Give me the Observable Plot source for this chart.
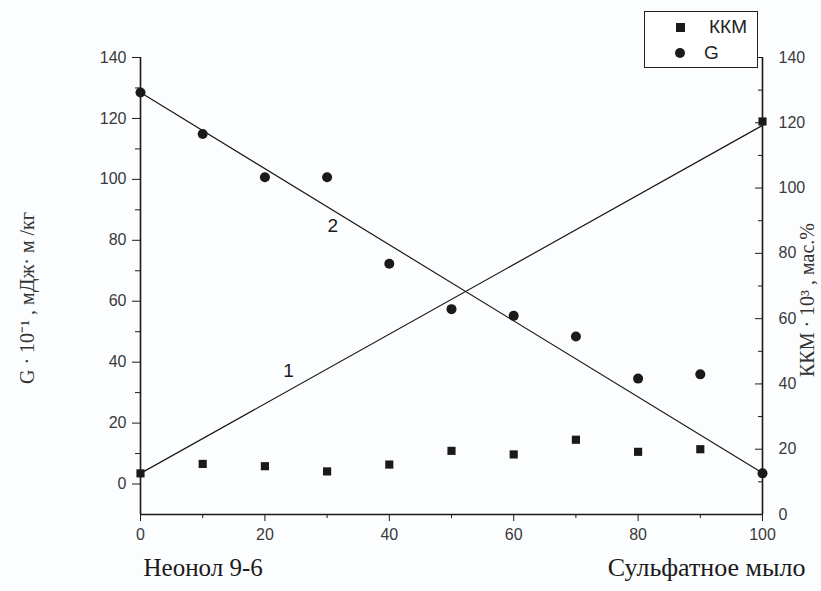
<!DOCTYPE html>
<html><head><meta charset="utf-8">
<script src="https://cdn.jsdelivr.net/npm/d3@7"></script>
<script src="https://cdn.jsdelivr.net/npm/@observablehq/plot@0.6"></script>
<style>
body{margin:0;background:#fff;}
#wrap{position:relative;width:821px;height:591px;background:#fcfdfe;overflow:hidden;}
#wrap > svg{position:absolute;left:0;top:0;}
#legend{position:absolute;left:644px;top:11px;width:112px;height:55px;border:1.5px solid #222;background:#fff;font-family:"Liberation Sans",Arial,sans-serif;font-size:19px;color:#222;}
</style></head><body><div id="wrap"></div>
<script>
// ---- data ----
const composition = [0, 10, 20, 30, 40, 50, 60, 70, 80, 90, 100];
const gValues   = [128.5, 114.9, 100.7, 100.7, 72.3, 57.4, 55.2, 48.4, 34.6, 36.0, 3.5];   // left axis
const kkmValues = [12.6, 15.5, 14.8, 13.2, 15.3, 19.5, 18.4, 22.9, 19.2, 20.0, 120.4];     // right axis
const fitX   = [0, 100];
const gFit   = [128.5, 3.6];
const kkmFit = [12.6, 119.2];
const xTicks = [0, 20, 40, 60, 80, 100];
const xMinor = [10, 30, 50, 70, 90];
const leftTicks = [0, 20, 40, 60, 80, 100, 120, 140];
const leftMinor = [10, 30, 50, 70, 90, 110, 130];
const rightTicks = [0, 20, 40, 60, 80, 100, 120, 140];
const rightMinor = [10, 30, 50, 70, 90, 110, 130];
const seriesNames = ["ККМ", "G"];
const lineLabels = ["1", "2"];
const lineLabelX = [23.8, 30.9];
const lineLabelY = [37, 84.8];
const leftTitle = "G · 10⁻¹ , мДж· м /кг";
const rightTitle = "ККМ · 10³ , мас.%";
const endLabels = ["Неонол 9-6", "Сульфатное мыло"];

// right axis (ККМ) mapped onto the left scale
const toLeft = r => -10 + r * 150 / 140;
const toRight = v => (v + 10) * 140 / 150;

const gData = composition.map((x, i) => ({x, y: gValues[i]}));
const kData = composition.map((x, i) => ({x, y: kkmValues[i]}));
const gLine = fitX.map((x, i) => ({x, y: gFit[i]}));
const kLine = fitX.map((x, i) => ({x, y: kkmFit[i]}));
const labData = lineLabels.map((t, i) => ({t, x: lineLabelX[i], y: lineLabelY[i]}));

const ink = "#1a1a1a";
const tickInk = "#3a3a3a";
const sans = "Liberation Sans, Arial, sans-serif";
const serif = "Liberation Serif, Times New Roman, serif";

const plot = Plot.plot({
  width: 821, height: 591,
  marginLeft: 140, marginRight: 59, marginTop: 57, marginBottom: 77,
  x: {domain: [0, 100], label: null},
  y: {domain: [-10, 140], label: null},
  style: {fontFamily: sans, fontSize: "16px", color: tickInk, background: "transparent", overflow: "visible"},
  marks: [
    Plot.axisX(xTicks, {tickSize: 7, tickPadding: 7, stroke: ink, fill: tickInk, fontSize: 16, fontFamily: sans, label: null}),
    Plot.axisX(xMinor, {tickSize: 4, tickFormat: () => "", stroke: ink, label: null}),
    Plot.axisY(leftTicks, {anchor: "left", tickSize: 8, tickPadding: 6, stroke: ink, fill: tickInk, fontSize: 16, fontFamily: sans, label: null}),
    Plot.axisY(leftMinor, {anchor: "left", tickSize: 5, tickFormat: () => "", stroke: ink, label: null}),
    Plot.axisY(rightTicks.map(toLeft), {anchor: "right", tickSize: 8, dx: -8, tickPadding: 16, stroke: ink, fill: tickInk, fontSize: 16, fontFamily: sans, label: null, tickFormat: v => String(Math.round(toRight(v)))}),
    Plot.axisY(rightMinor.map(toLeft), {anchor: "right", tickSize: 5, dx: -5, tickFormat: () => "", stroke: ink, label: null}),
    Plot.ruleX(fitX, {y1: -10, y2: 140, stroke: ink, strokeWidth: 1.6}),
    Plot.ruleY([-10], {x1: 0, x2: 100, stroke: ink, strokeWidth: 1.6}),
    Plot.line(gLine, {x: "x", y: "y", stroke: ink, strokeWidth: 1.2}),
    Plot.line(kLine, {x: "x", y: d => toLeft(d.y), stroke: ink, strokeWidth: 1.2}),
    Plot.dot(kData, {x: "x", y: d => toLeft(d.y), symbol: "square", r: 4.6, fill: ink, stroke: "none"}),
    Plot.dot(gData, {x: "x", y: "y", symbol: "circle", r: 5, fill: ink, stroke: "none"}),
    Plot.text(labData, {x: "x", y: "y", text: "t", fontSize: 19, fill: ink, fontFamily: sans}),
    Plot.text([leftTitle], {frameAnchor: "left", textAnchor: "middle", dx: -113, dy: 12, rotate: -90, fontSize: 20, fill: "#333", fontFamily: serif}),
    Plot.text([rightTitle], {frameAnchor: "right", textAnchor: "middle", dx: 45, dy: 14, rotate: -90, fontSize: 20, fill: "#333", fontFamily: serif}),
    Plot.text([endLabels[0]], {frameAnchor: "bottom-left", dx: 3, dy: 61, textAnchor: "start", fontSize: 25, fill: ink, fontFamily: serif}),
    Plot.text([endLabels[1]], {frameAnchor: "bottom-right", dx: 43, dy: 61, textAnchor: "end", fontSize: 26, fill: ink, fontFamily: serif})
  ]
});

const wrap = document.getElementById("wrap");
wrap.appendChild(plot);

// legend
const legend = document.createElement("div");
legend.id = "legend";
const markerRadius = ["0", "50%"];
const markerSize = [9, 10];
const textLeft = [64, 59];
seriesNames.forEach((name, i) => {
  const mk = document.createElement("div");
  const s = markerSize[i];
  mk.style.cssText = "position:absolute;background:#1a1a1a;width:" + s + "px;height:" + s + "px;border-radius:" + markerRadius[i] +
    ";left:" + (35 - s / 2) + "px;top:" + (15 + i * 26 - s / 2) + "px";
  legend.appendChild(mk);
  const tx = document.createElement("span");
  tx.textContent = name;
  tx.style.cssText = "position:absolute;white-space:nowrap;line-height:26px;left:" + textLeft[i] + "px;top:" + (2 + i * 26) + "px";
  legend.appendChild(tx);
});
wrap.appendChild(legend);
</script></body></html>
